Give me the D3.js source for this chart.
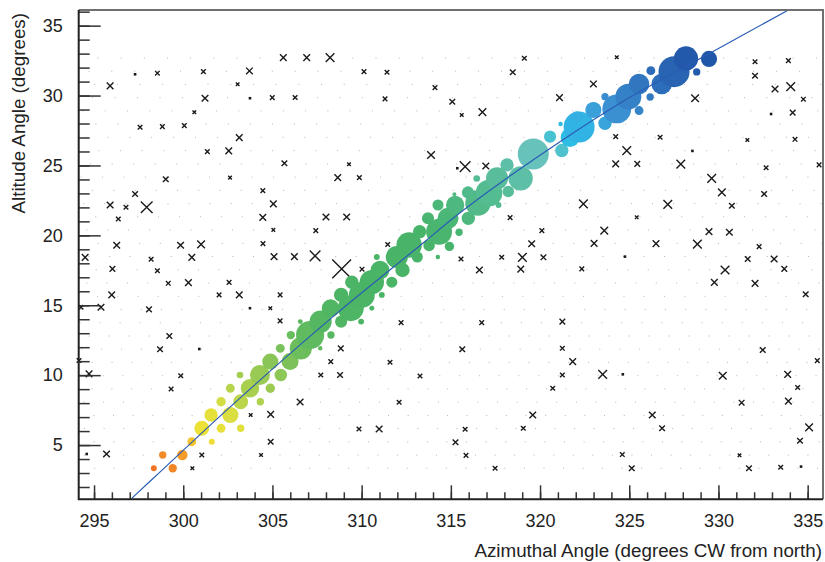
<!DOCTYPE html>
<html>
<head>
<meta charset="utf-8">
<title>Altitude vs Azimuth</title>
<script src="https://d3js.org/d3.v7.min.js"></script>
<style>
    body { margin: 0; background: #fff; }
    text { font-family: "Liberation Sans", Arial, Helvetica, sans-serif; }
</style>
</head>
<body>
<svg id="chart"></svg>
<script>
    // ---- data ----
    const xMajor = [295, 300, 305, 310, 315, 320, 325, 330, 335];
    const xMinor = d3.range(295, 336);
    const yMajor = [5, 10, 15, 20, 25, 30, 35];
    const yMinor = d3.range(2, 37);

    // fitted track
    const lineAz  = [297.11, 298.26, 302.34, 308.51, 313.65, 315.05, 321.12, 324.48, 329.34, 333.92];
    const lineAlt = [1.19, 2.55, 7.39, 14.31, 19.67, 21.15, 26.70, 29.45, 32.90, 36.12];

    // background sky grid, one entry per row
    const gridAlt = [32.69, 31.74, 30.80, 29.85, 28.90, 27.96, 27.01, 26.06, 25.11, 24.17, 23.22, 22.27,
        21.33, 20.38, 19.43, 18.49, 17.54, 16.59, 15.64, 14.70, 13.75, 12.80, 11.86, 10.91, 9.96, 9.02,
        8.07, 7.12, 6.18, 5.23, 4.28, 3.34];
    const gridStep = [1.299, 1.285, 1.272, 1.260, 1.248, 1.237, 1.227, 1.217, 1.207, 1.198, 1.189, 1.181,
        1.173, 1.166, 1.159, 1.152, 1.146, 1.140, 1.135, 1.130, 1.125, 1.121, 1.117, 1.113, 1.110, 1.107,
        1.104, 1.101, 1.099, 1.098, 1.096, 1.095];
    const gridAnchor = [305.61, 310.13, 314.11, 301.22, 300.62, 297.58, 303.14, 301.35, 305.67, 308.66,
        297.30, 305.05, 308.00, 307.43, 311.46, 305.09, 310.02, 302.57, 303.14, 295.39, 312.21, 299.22,
        308.83, 311.59, 313.27, 299.32, 312.10, 304.90, 309.85, 304.90, 301.04, 300.51];

    // background points: [azimuth, altitude, weight]  (weight 0 = dot)
    const crosses = [
        [305.61,32.71,4],[306.92,32.71,4],[308.23,32.71,6],[319.12,32.67,2],[324.30,32.74,1],[332.05,32.42,2],[333.92,32.50,2],
        [303.71,31.76,4],[297.30,31.52,0],[298.55,31.60,2],[301.13,31.71,2],[310.13,31.71,2],[311.42,31.67,2],[318.47,31.67,3],[332.05,31.42,3],
        [295.90,30.69,4],[303.05,30.81,1],[314.11,30.57,2],[322.99,30.83,4],[333.17,30.47,4],[334.05,30.64,6],
        [301.22,29.81,4],[303.74,29.81,0],[304.99,29.85,2],[306.27,29.86,2],[311.31,29.76,2],[315.08,29.56,3],[321.09,29.85,4],[328.69,29.81,5],[334.76,29.74,2],
        [300.62,28.81,1],[315.61,28.61,1],[316.77,28.81,5],[332.95,28.68,0],[334.16,28.78,3],
        [297.58,27.73,2],[298.83,27.78,2],[300.06,27.85,2],
        [303.14,26.99,4],[324.24,27.06,2],[326.73,27.02,2],[331.62,26.82,1],[334.29,26.87,2],
        [301.35,25.99,2],[302.55,26.04,4],[313.89,25.75,5],[324.86,26.06,6],[328.54,26.04,0],
        [305.67,25.16,3],[309.29,25.09,1],[315.36,24.80,0],[315.80,24.91,8],[316.96,24.96,4],[324.24,25.11,4],[325.45,25.11,3],[327.89,25.09,6],[332.67,24.84,2],[335.64,25.04,2],
        [299.02,24.01,3],[302.62,24.13,1],[308.66,24.13,4],[309.87,24.13,2],[329.62,24.08,6],
        [297.30,22.96,3],[304.46,23.20,2],[330.19,23.08,5],[332.56,22.96,3],
        [295.90,22.17,4],[296.79,22.01,2],[297.95,22.01,9],[305.05,22.25,4],[322.43,22.25,6],[327.16,22.22,6],[330.75,22.12,3],
        [296.36,21.17,2],[304.46,21.29,4],[308.00,21.31,4],[309.16,21.31,4],[318.32,21.27,2],[325.42,21.29,1],
        [305.05,20.39,1],[307.43,20.34,2],[320.10,20.34,2],[323.60,20.34,5],[329.47,20.27,4],[330.61,20.22,4],
        [296.27,19.29,4],[299.85,19.29,4],[301.00,19.36,5],[304.47,19.41,2],[311.46,19.35,2],[319.53,19.40,4],[323.03,19.43,4],[326.50,19.41,4],[328.82,19.37,6],[332.28,19.19,2],
        [294.50,18.43,4],[298.20,18.29,2],[300.48,18.43,4],[305.09,18.48,4],[306.23,18.48,4],[307.39,18.53,8],[315.57,18.31,2],[317.85,18.43,2],[319.01,18.43,6],[320.19,18.43,3],[324.76,18.48,0],[331.64,18.31,3],[333.12,18.31,4],
        [296.03,17.60,3],[298.55,17.47,2],[308.88,17.60,16],[310.02,17.58,2],[316.60,17.52,4],[318.92,17.58,4],[322.34,17.60,2],[330.37,17.52,6],[333.69,17.60,3],
        [299.16,16.57,2],[300.29,16.62,4],[302.57,16.64,2],[329.77,16.64,4],[332.05,16.57,4],
        [295.99,15.74,4],[302.01,15.74,2],[303.14,15.74,4],[305.43,15.74,2],[334.89,15.79,3],
        [294.27,14.86,2],[295.39,14.86,4],[298.08,14.71,3],[303.74,14.79,0],[304.88,14.79,1],
        [305.43,13.88,2],[312.21,13.76,2],[316.73,13.76,2],[321.25,13.83,3],
        [299.22,12.80,3],
        [298.70,11.85,3],[300.90,11.87,0],[308.83,11.92,3],[315.64,11.85,3],[321.25,11.92,2],[332.48,11.80,3],
        [294.16,11.05,2],[308.27,10.97,2],[311.59,10.92,2],[321.83,10.97,4],[335.54,11.04,2],
        [294.72,10.09,4],[299.86,9.96,2],[307.71,10.01,2],[308.79,10.01,3],[313.27,9.94,2],[321.25,10.01,2],[323.51,10.06,6],[324.64,10.06,0],[330.24,9.96,5],[333.88,10.06,4],
        [299.32,9.01,2],[320.71,9.06,2],[334.44,9.12,2],
        [306.55,8.08,4],[312.10,8.06,2],[331.30,8.03,3],[333.92,8.14,4],
        [303.78,7.15,1],[304.90,7.19,4],[319.59,7.15,4],[326.29,7.15,4],
        [309.85,6.15,2],[310.98,6.15,4],[315.80,6.13,2],[319.06,6.20,2],[326.84,6.20,3],[335.08,6.27,5],
        [304.90,5.24,3],[315.26,5.20,3],[334.57,5.31,3],
        [294.59,4.36,0],[295.70,4.36,4],[301.04,4.29,2],[304.36,4.29,1],[315.85,4.26,2],[324.61,4.32,2],[331.18,4.27,1],
        [300.51,3.34,1],[317.48,3.34,2],[325.14,3.34,3],[331.71,3.34,3],[333.49,3.41,2],[334.63,3.46,0]
    ];

    // signal points along the track: [azimuth, altitude, counts]
    const blobs = [
        [298.35,3.34,7],[299.41,3.34,14],[298.85,4.29,11],[299.95,4.29,22],[300.48,5.24,16],[301.60,5.24,7],
        [301.04,6.20,45],[302.12,6.20,16],[303.22,6.20,11],[301.56,7.15,36],[302.64,7.15,53],
        [302.12,8.10,18],[303.22,8.10,45],[304.32,8.10,11],[302.64,9.06,16],[303.74,9.06,69],[304.88,9.06,18],
        [303.18,10.01,9],[304.30,10.01,81],[305.47,10.01,32],[304.88,10.97,53],[305.99,10.97,59],
        [305.44,11.92,16],[306.59,11.92,100],[307.68,11.92,4],[306.03,12.87,14],[307.11,12.87,161],[308.28,12.87,11],
        [306.56,13.83,5],[307.70,13.83,100],[308.85,13.83,30],[309.97,13.83,7],
        [308.26,14.79,64],[309.39,14.79,137],[310.57,14.79,5],
        [308.85,15.74,42],[310.01,15.74,137],[311.13,15.74,7],
        [309.45,16.65,36],[310.57,16.65,121],[311.69,16.65,25],
        [311.03,17.52,72],[312.29,17.52,42],
        [310.85,18.45,7],[311.97,18.45,100],[313.12,18.45,25],[314.27,18.45,4],
        [312.66,19.31,132],[313.78,19.28,27],[314.92,19.21,18],
        [313.25,20.26,36],[314.34,20.26,137],[315.46,20.22,11],
        [313.72,21.22,30],[314.84,21.22,90],[315.98,21.22,36],
        [314.28,22.17,25],[315.24,22.17,69],[316.52,22.32,132],[317.67,22.17,7],
        [315.20,22.94,3],[315.96,23.07,30],[317.14,23.03,144],[318.22,23.14,27],
        [316.45,24.07,9],[317.59,24.08,100],[318.91,24.08,121],
        [318.15,25.04,36],[319.62,25.82,196],[321.22,26.07,36],
        [320.56,27.06,30],[321.68,27.00,72],[321.15,27.97,4],[322.19,27.75,196],[322.06,28.49,25],
        [322.99,28.97,53],[323.64,28.02,36],[324.30,29.04,169],[325.55,28.93,16],
        [323.64,29.92,11],[324.95,29.92,137],[326.17,29.90,11],
        [325.55,30.83,86],[326.82,30.83,86],
        [326.21,31.78,16],[327.51,31.71,196],[328.78,31.69,11],
        [328.18,32.65,121],[329.47,32.62,53]
    ];

    // colour along the track (azimuth + altitude)
    const trackStops = [301.5, 303, 304.5, 305.8, 307, 309.5, 311, 313, 316, 318.5, 321, 325, 334, 337,
        341.5, 345.5, 347.5, 348.5, 350.5, 352, 353.5, 355, 357.5, 359.5, 361, 362.5];
    const trackColors = ["#ee7022", "#f18a28", "#f59e2a", "#f4c42c", "#eee035", "#e2e03e", "#c0d84a",
        "#a6ce50", "#88c557", "#6cbe5c", "#56b862", "#4bb465", "#48b46a", "#4cb87c", "#58bd9a", "#66c2ba",
        "#4cc2d0", "#2cbee4", "#33b0e2", "#3aa0da", "#3a8ecf", "#3580c6", "#2d6fbc", "#2862b2", "#2158aa",
        "#1f55a6"];

    // ---- layout ----
    const WIDTH = 825, HEIGHT = 562;
    const LEFT = 78.7, RIGHT = 823, TOP = 10, BOTTOM = 499.3;

    const svg = d3.select("#chart").attr("width", WIDTH).attr("height", HEIGHT);

    const x = d3.scaleLinear().domain([294.14, 335.86]).range([LEFT, RIGHT]);
    const y = d3.scaleLinear().domain([1.12, 36.12]).range([BOTTOM, TOP]);
    const radius = d3.scaleSqrt().domain([0, 196]).range([0, 15.5]);
    const armSize = d3.scaleLinear().domain([0, 16]).range([1.3, 9.4]);
    const color = d3.scaleLinear().domain(trackStops).range(trackColors);

    svg.append("defs").append("clipPath").attr("id", "plot-clip")
        .append("rect")
        .attr("x", LEFT).attr("y", TOP)
        .attr("width", RIGHT - LEFT).attr("height", BOTTOM - TOP);

    // grid dots
    let gridPoints = [];
    gridAlt.forEach((alt, i) => {
        const step = gridStep[i];
        let az = gridAnchor[i];
        while (az - step > x.domain()[0]) az -= step;
        for (; az < x.domain()[1]; az += step) gridPoints.push([az, alt]);
    });

    svg.append("g")
        .selectAll("rect")
        .data(gridPoints)
        .join("rect")
        .attr("x", d => x(d[0]) - 0.5)
        .attr("y", d => y(d[1]) - 0.5)
        .attr("width", 1)
        .attr("height", 1)
        .attr("fill", "#b4b4b4");

    // crosses and dots
    const crossGroup = svg.append("g");
    crossGroup.selectAll("path")
        .data(crosses.filter(d => d[2] > 0))
        .join("path")
        .attr("transform", d => `translate(${x(d[0])},${y(d[1])})`)
        .attr("d", d => {
            const h = armSize(d[2]);
            return `M${-h},${-h}L${h},${h}M${-h},${h}L${h},${-h}`;
        })
        .attr("stroke", "#1a1a1a")
        .attr("stroke-width", 1.4)
        .attr("fill", "none");

    crossGroup.selectAll("rect")
        .data(crosses.filter(d => d[2] === 0))
        .join("rect")
        .attr("x", d => x(d[0]) - 1.3)
        .attr("y", d => y(d[1]) - 1.3)
        .attr("width", 2.6)
        .attr("height", 2.6)
        .attr("fill", "#1a1a1a");

    // coloured points
    svg.append("g")
        .attr("clip-path", "url(#plot-clip)")
        .selectAll("circle")
        .data(blobs)
        .join("circle")
        .attr("cx", d => x(d[0]))
        .attr("cy", d => y(d[1]))
        .attr("r", d => radius(d[2]))
        .attr("fill", d => color(d[0] + d[1]));

    // track line
    const trackLine = d3.line()
        .x(i => x(lineAz[i]))
        .y(i => y(lineAlt[i]))
        .curve(d3.curveMonotoneX);

    svg.append("path")
        .attr("clip-path", "url(#plot-clip)")
        .attr("d", trackLine(d3.range(lineAz.length)))
        .attr("fill", "none")
        .attr("stroke", "#2a5cb5")
        .attr("stroke-width", 1.2);

    // axes
    function styleAxis(g) {
        g.select(".domain").remove();
        g.selectAll(".tick line").attr("stroke", "#333").attr("stroke-width", 1.5);
        g.selectAll(".tick text").attr("fill", "#222");
        g.attr("font-size", 18).attr("font-family", '"Liberation Sans", Arial, sans-serif');
    }

    svg.append("g")
        .attr("transform", `translate(0,${BOTTOM})`)
        .call(d3.axisBottom(x).tickValues(xMinor).tickSize(-7).tickFormat(""))
        .call(styleAxis);
    svg.append("g")
        .attr("transform", `translate(0,${BOTTOM})`)
        .call(d3.axisBottom(x).tickValues(xMajor).tickSize(-14).tickPadding(15).tickFormat(d3.format("d")))
        .call(styleAxis);

    svg.append("g")
        .attr("transform", `translate(${LEFT},0)`)
        .call(d3.axisLeft(y).tickValues(yMinor).tickSize(-11).tickFormat(""))
        .call(styleAxis);
    svg.append("g")
        .attr("transform", `translate(${LEFT},0)`)
        .call(d3.axisLeft(y).tickValues(yMajor).tickSize(-22).tickPadding(16).tickFormat(d3.format("d")))
        .call(styleAxis);

    // frame
    svg.append("path")
        .attr("d", `M${LEFT},${TOP}L${RIGHT},${TOP}L${RIGHT},${BOTTOM}`)
        .attr("fill", "none")
        .attr("stroke", "#707070")
        .attr("stroke-width", 2);
    svg.append("path")
        .attr("d", `M${LEFT},${TOP}L${LEFT},${BOTTOM}L${RIGHT},${BOTTOM}`)
        .attr("fill", "none")
        .attr("stroke", "#222")
        .attr("stroke-width", 2);

    // titles
    svg.append("text")
        .attr("transform", "translate(25,13) rotate(-90)")
        .attr("text-anchor", "end")
        .attr("font-size", 18.8)
        .attr("fill", "#222")
        .text("Altitude Angle (degrees)");

    svg.append("text")
        .attr("x", 822)
        .attr("y", 557)
        .attr("text-anchor", "end")
        .attr("font-size", 18.8)
        .attr("fill", "#222")
        .text("Azimuthal Angle (degrees CW from north)");
</script>
</body>
</html>
